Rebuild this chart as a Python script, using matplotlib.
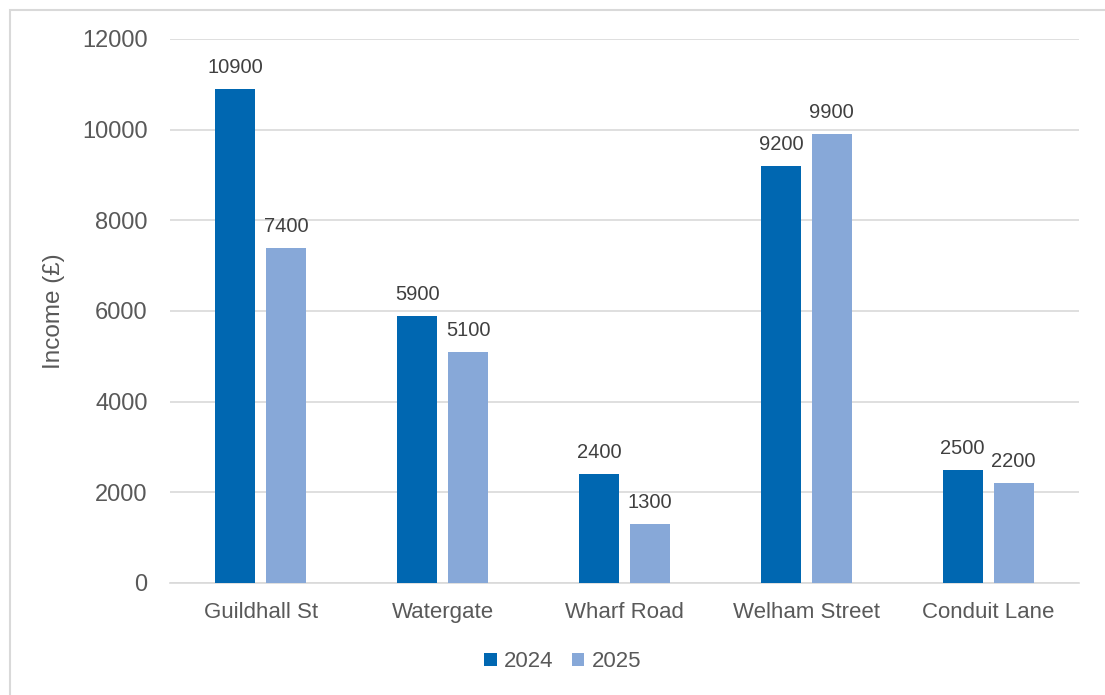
import matplotlib.pyplot as plt
import matplotlib.patches as mpatches
import numpy as np

plt.rcParams['font.family'] = ['Liberation Sans', 'DejaVu Sans']

streets = ['Guildhall St', 'Watergate', 'Wharf Road', 'Welham Street', 'Conduit Lane']
income_2024 = [10900, 5900, 2400, 9200, 2500]
income_2025 = [7400, 5100, 1300, 9900, 2200]
yticks = [0, 2000, 4000, 6000, 8000, 10000, 12000]

c24 = '#0067B1'
c25 = '#87A8D8'
txt = '#595959'

fig = plt.figure(figsize=(11.05, 6.95), dpi=100)
# chart border
fig.patches.append(mpatches.Rectangle((10 / 1105, -0.05), 1.1, 1.05 - 10 / 695,
                                      transform=fig.transFigure, fill=False,
                                      edgecolor='#d9d9d9', linewidth=1.5))
ax = fig.add_axes([0.1538, 0.1612, 0.8227, 0.7827])

x = np.arange(len(streets))
w = 0.22
b1 = ax.bar(x - 0.14, income_2024, w, color=c24, label='2024', zorder=3)
b2 = ax.bar(x + 0.14, income_2025, w, color=c25, label='2025', zorder=3)

for bars in (b1, b2):
    for rect in bars:
        h = rect.get_height()
        ax.annotate(f'{h:.0f}', (rect.get_x() + rect.get_width() / 2, h),
                    xytext=(0, 8.5), textcoords='offset points',
                    ha='center', va='bottom', fontsize=14.5, color='#404040')

ax.set_xlim(-0.5, len(streets) - 0.5)
ax.set_ylim(0, 12000)
ax.set_yticks(yticks)
ax.set_xticks(x)
ax.set_xticklabels(streets)
ax.tick_params(axis='both', length=0, colors=txt)
ax.tick_params(axis='y', pad=16, labelsize=17)
ax.tick_params(axis='x', pad=14, labelsize=16)
ax.grid(axis='y', color='#d9d9d9', linewidth=1.2, zorder=0)
for s in ['top', 'right', 'left']:
    ax.spines[s].set_visible(False)
ax.spines['bottom'].set_color('#d9d9d9')
ax.spines['bottom'].set_linewidth(1.2)
ax.set_ylabel('Income (£)', fontsize=17.5, color=txt, labelpad=12)

ax.legend(loc='center', bbox_to_anchor=(0.432, -0.145), ncol=2, frameon=False,
          fontsize=16, labelcolor=txt, handlelength=0.55, handleheight=0.55,
          handletextpad=0.35, columnspacing=0.8)

fig.savefig('out.png', dpi=100)
